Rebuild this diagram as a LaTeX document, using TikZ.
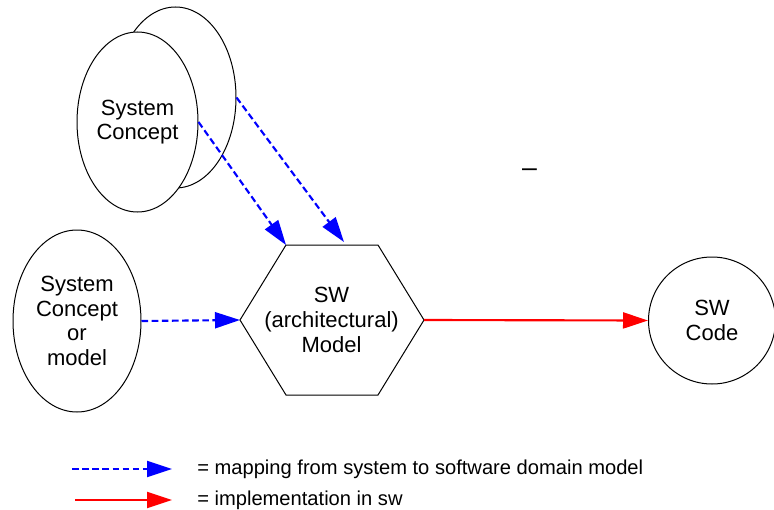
\documentclass[tikz,border=0pt]{standalone}
\usepackage{fontspec}
\setmainfont{Liberation Sans}
\usetikzlibrary{shapes.geometric,arrows.meta}
\begin{document}
\begin{tikzpicture}[x=0.75pt,y=-0.75pt,
  lbl/.style={font=\fontsize{16.5}{18.5}\selectfont, align=center},
  oval/.style={draw=black, line width=0.75pt, fill=white, ellipse, inner sep=0pt, lbl},
  mapar/.style={draw={rgb,255:red,0;green,0;blue,255}, line width=1.6pt, dash pattern=on 5pt off 2.6pt,
     -{Triangle[length=18.75pt,width=12pt]}},
  implar/.style={draw={rgb,255:red,255;green,0;blue,0}, line width=1.6pt,
     -{Triangle[length=18.75pt,width=12pt]}},
  legtxt/.style={font=\fontsize{15.1}{18}\selectfont, anchor=west, inner sep=0pt}]
\useasboundingbox (0,0) rectangle (774,510);
% stacked system concepts
\node[oval, minimum width=90.75pt, minimum height=135.75pt] (back) at (175.5,97.5) {};
\node[oval, minimum width=90.75pt, minimum height=135pt] (front) at (137.5,122) {System\\Concept};
% left ellipse
\node[oval, minimum width=96pt, minimum height=136.5pt] (left) at (77,321) {System\\Concept\\or\\model};
% hexagon
\coordinate (hexL) at (240,320);
\coordinate (hexTL) at (286,245);
\coordinate (hexTR) at (378,245);
\coordinate (hexR) at (424,320);
\coordinate (hexBR) at (378,395);
\coordinate (hexBL) at (286,395);
\coordinate (hexT2) at (344,242);
\draw[line width=0.75pt] (hexL) -- (hexTL) -- (hexTR) -- (hexR) -- (hexBR) -- (hexBL) -- cycle;
\node[lbl] (hex) at (331.5,320) {SW\\(architectural)\\Model};
% code circle
\node[draw=black, line width=0.75pt, circle, minimum size=95.25pt, inner sep=0pt, lbl] (code) at (712,320.5) {SW\\Code};
% connectors
\draw[mapar] (front.east) -- (hexTL);
\draw[mapar] (back.east) -- (hexT2);
\draw[mapar] (left.east) -- (hexL);
\draw[implar] (hexR) -- (code.west);
% stray dash
\node[font=\fontsize{20}{22}\selectfont, inner sep=0pt] (dash) at (529.5,173) {–};
% legend
\coordinate (l1s) at (72,469);
\coordinate (l1e) at (172,469);
\coordinate (l2s) at (75,500);
\coordinate (l2e) at (172,500);
\draw[mapar] (l1s) -- (l1e);
\draw[implar] (l2s) -- (l2e);
\node[legtxt] (t1) at (197,469) {= mapping from system to software domain model};
\node[legtxt] (t2) at (197,500) {= implementation in sw};
\end{tikzpicture}
\end{document}
